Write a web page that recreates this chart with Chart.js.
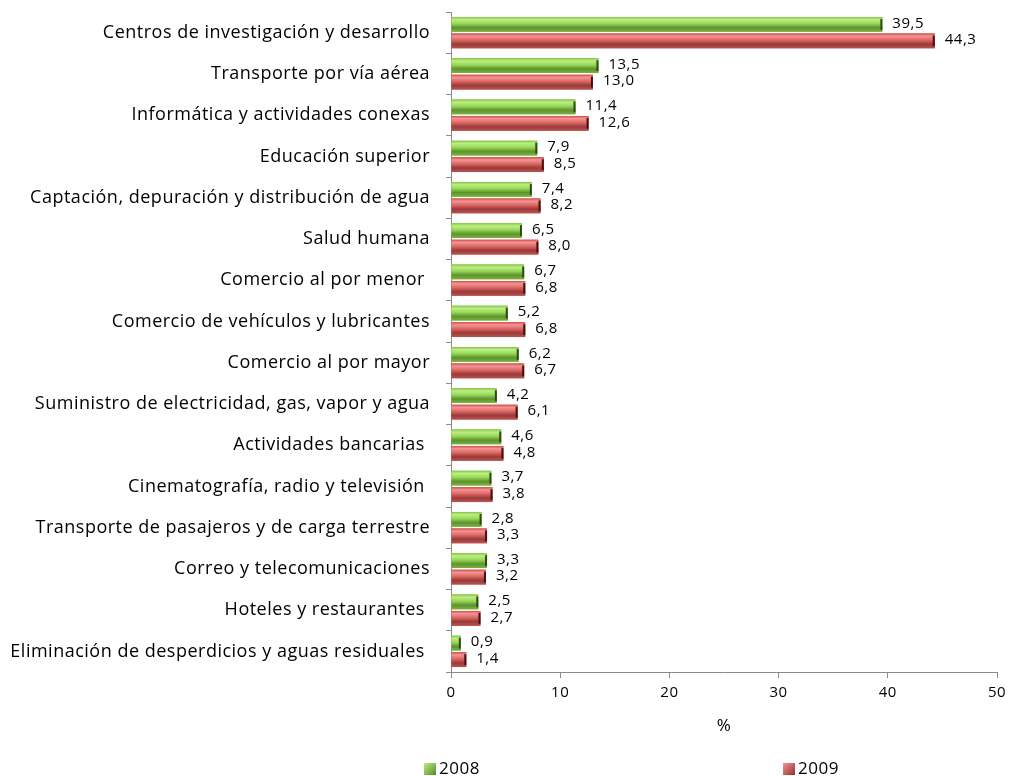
<!DOCTYPE html>
<html><head><meta charset="utf-8">
<script src="https://cdn.jsdelivr.net/npm/chart.js@4/dist/chart.umd.min.js"></script>
<style>html,body{margin:0;padding:0;background:#fff}#wrap{width:1011px;height:776px;position:relative}</style>
</head><body><div id="wrap"><canvas id="c" width="1011" height="776"></canvas></div>
<script>
const categories = [
  "Centros de investigación y desarrollo",
  "Transporte por vía aérea",
  "Informática y actividades conexas",
  "Educación superior",
  "Captación, depuración y distribución de agua",
  "Salud humana",
  "Comercio al por menor ",
  "Comercio de vehículos y lubricantes",
  "Comercio al por mayor",
  "Suministro de electricidad, gas, vapor y agua",
  "Actividades bancarias ",
  "Cinematografía, radio y televisión ",
  "Transporte de pasajeros y de carga terrestre",
  "Correo y telecomunicaciones",
  "Hoteles y restaurantes ",
  "Eliminación de desperdicios y aguas residuales "
];
const series2008 = [39.5,13.5,11.4,7.9,7.4,6.5,6.7,5.2,6.2,4.2,4.6,3.7,2.8,3.3,2.5,0.9];
const series2009 = [44.3,13.0,12.6,8.5,8.2,8.0,6.8,6.8,6.7,6.1,4.8,3.8,3.3,3.2,2.7,1.4];
const seriesNames = ["2008","2009"];
const xTicks = [0,10,20,30,40,50];

const FONT = "'Open Sans', sans-serif";
const styles = [
  {base:'#8ccb48', stops:['#80c440','#bdee85','#98d858','#5e922c','#7ab242'], cap:'#2f4a14'},
  {base:'#d25a58', stops:['#d04c4a','#f39593','#dc6664','#9a3a38','#b85452'], cap:'#4a1010'}
];

const spacing = {
  id:'spacing',
  beforeDraw(chart){ chart.ctx.letterSpacing = '0.5px'; },
  afterDraw(chart){ chart.ctx.letterSpacing = '0px'; }
};

const bevel = {
  id:'bevel',
  afterDatasetsDraw(chart){
    const ctx = chart.ctx;
    chart.data.datasets.forEach((ds, di) => {
      const meta = chart.getDatasetMeta(di);
      const st = styles[di];
      meta.data.forEach((el, i) => {
        const top = el.y - el.height/2, h = el.height;
        const left = Math.min(el.base, el.x), w = Math.abs(el.x - el.base);
        const g = ctx.createLinearGradient(0, top, 0, top + h);
        g.addColorStop(0, st.stops[0]);
        g.addColorStop(0.18, st.stops[1]);
        g.addColorStop(0.45, st.stops[2]);
        g.addColorStop(0.72, st.stops[3]);
        g.addColorStop(1, st.stops[4]);
        ctx.save();
        ctx.fillStyle = g;
        ctx.fillRect(left, top, w, h);
        ctx.fillStyle = st.cap;
        ctx.fillRect(left + w - 2, top + 2, 2, h - 4);
        ctx.restore();
        ctx.save();
        ctx.font = "15px " + FONT;
        ctx.fillStyle = '#000';
        ctx.textBaseline = 'middle';
        ctx.textAlign = 'left';
        ctx.fillText(ds.data[i].toFixed(1).replace('.', ','), el.x + 10, el.y - 1);
        ctx.restore();
      });
    });
    const legendX = [424, 783];
    ctx.save();
    ctx.font = "17px " + FONT;
    ctx.textBaseline = 'middle';
    ctx.textAlign = 'left';
    seriesNames.forEach((n, k) => {
      const st = styles[k];
      const x = legendX[k], y = 763;
      const g = ctx.createLinearGradient(x, y, x + 11, y + 11);
      g.addColorStop(0, st.stops[1]);
      g.addColorStop(1, st.stops[3]);
      ctx.fillStyle = g;
      ctx.fillRect(x, y, 12, 12);
      ctx.fillStyle = '#000';
      ctx.fillText(n, x + 15, y + 6);
    });
    ctx.restore();
  }
};

new Chart(document.getElementById('c'), {
  type: 'bar',
  data: {
    labels: categories,
    datasets: [
      {label: seriesNames[0], data: series2008, backgroundColor: styles[0].base, borderWidth: 0, categoryPercentage: 0.8, barPercentage: 0.9},
      {label: seriesNames[1], data: series2009, backgroundColor: styles[1].base, borderWidth: 0, categoryPercentage: 0.8, barPercentage: 0.9}
    ]
  },
  options: {
    indexAxis: 'y',
    responsive: false,
    animation: false,
    layout: {padding: {left: 0, right: 14, top: 12, bottom: 38}},
    plugins: {legend: {display: false}, tooltip: {enabled: false}},
    scales: {
      x: {
        min: 0, max: 50,
        afterBuildTicks(scale){ scale.ticks = xTicks.map(v => ({value: v})); },
        afterFit(scale){ scale.height = 66; scale.paddingLeft = 0; scale.paddingRight = 0; },
        border: {color: '#8a8a8a', width: 1},
        grid: {display: true, drawOnChartArea: false, drawTicks: true, tickLength: 6, color: '#8a8a8a'},
        ticks: {color: '#000', font: {family: FONT, size: 15}, padding: 6},
        title: {display: true, text: '%', color: '#000', font: {family: FONT, size: 17}, padding: {top: 4, bottom: 2}}
      },
      y: {
        afterFit(scale){ scale.width = 451; scale.paddingTop = 0; scale.paddingBottom = 0; },
        border: {color: '#8a8a8a', width: 1},
        grid: {display: true, drawOnChartArea: false, offset: true, tickLength: 5, color: '#8a8a8a'},
        ticks: {color: '#000', font: {family: FONT, size: 18}, padding: 16, autoSkip: false}
      }
    }
  },
  plugins: [spacing, bevel]
});
</script></body></html>
